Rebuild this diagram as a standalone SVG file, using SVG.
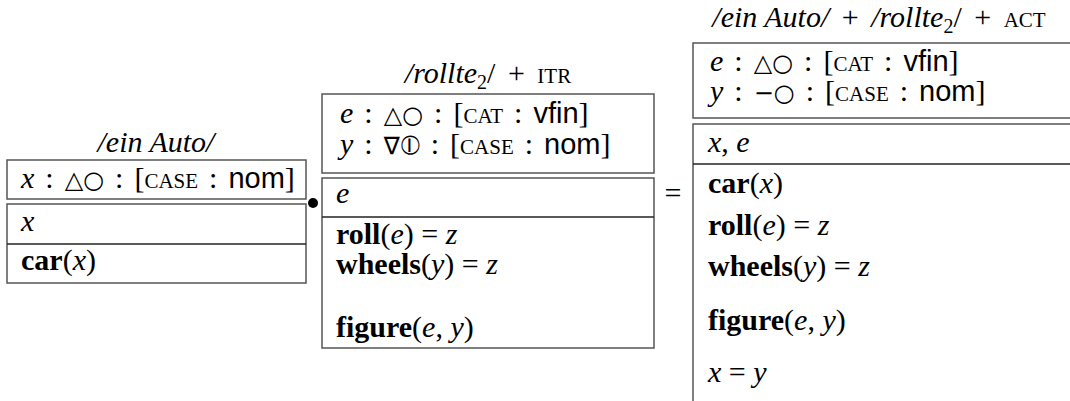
<svg xmlns="http://www.w3.org/2000/svg" width="1070" height="401" viewBox="0 0 1070 401">
<style>
.box{fill:#fff;stroke:#555;stroke-width:1.5}
.sep{stroke:#222;stroke-width:1.5}
text{font-family:"Liberation Serif","Times New Roman",serif;font-size:30px;fill:#000}
.feat{word-spacing:3.5px}
.op{word-spacing:5px}
.i{font-style:italic}
.b{font-weight:bold}
.sc{font-size:21px}
.sf{font-family:"Liberation Sans",Arial,sans-serif;font-size:29px}
.sym{font-family:"DejaVu Sans",sans-serif;font-size:24px}
.cv{font-family:"DejaVu Sans",sans-serif;font-size:28px}
.sub{font-size:20px}
</style>
<rect width="1070" height="401" fill="#fff"/>
<g id="ein-auto">
<text x="156" y="152" text-anchor="middle" class="i">/ein Auto/</text>
<rect class="box" x="7" y="160" width="299" height="39"/>
<text class="feat" x="21" y="188"><tspan class="i">x</tspan> : <tspan class="sym">△○</tspan> : [<tspan class="sc">CASE</tspan> : <tspan class="sf">nom</tspan>]</text>
<rect class="box" x="7" y="204" width="299" height="79"/>
<line class="sep" x1="7" y1="244" x2="306" y2="244"/>
<text x="21" y="231" class="i">x</text>
<text x="21" y="270"><tspan class="b">car</tspan>(<tspan class="i">x</tspan>)</text>
</g>
<g id="rollte">
<text x="488" y="83" text-anchor="middle"><tspan class="i">/rollte</tspan><tspan class="sub" dy="6">2</tspan><tspan class="op" dy="-6">/ + </tspan><tspan class="sc">ITR</tspan></text>
<rect class="box" x="322" y="94" width="332" height="79"/>
<text class="feat" x="340" y="123"><tspan class="i">e</tspan> : <tspan class="sym">△○</tspan> : [<tspan class="sc">CAT</tspan> : <tspan class="sf">vfin</tspan>]</text>
<text class="feat" x="340" y="154"><tspan class="i">y</tspan> : <tspan class="sym">∇</tspan><tspan class="cv">⦶</tspan> : [<tspan class="sc">CASE</tspan> : <tspan class="sf">nom</tspan>]</text>
<rect class="box" x="322" y="178" width="332" height="170"/>
<line class="sep" x1="322" y1="217" x2="654" y2="217"/>
<text x="336" y="203" class="i">e</text>
<text x="336" y="244"><tspan class="b">roll</tspan>(<tspan class="i">e</tspan>) = <tspan class="i">z</tspan></text>
<text x="336" y="274"><tspan class="b">wheels</tspan>(<tspan class="i">y</tspan>) = <tspan class="i">z</tspan></text>
<text x="336" y="337"><tspan class="b">figure</tspan>(<tspan class="i">e</tspan>, <tspan class="i">y</tspan>)</text>
</g>
<g id="result">
<text x="879" y="27" text-anchor="middle"><tspan class="i">/ein Auto/</tspan><tspan class="op"> + </tspan><tspan class="i">/rollte</tspan><tspan class="sub" dy="6">2</tspan><tspan class="op" dy="-6">/ + </tspan><tspan class="sc">ACT</tspan></text>
<rect class="box" x="693" y="43" width="390" height="75"/>
<text class="feat" x="710" y="71"><tspan class="i">e</tspan> : <tspan class="sym">△○</tspan> : [<tspan class="sc">CAT</tspan> : <tspan class="sf">vfin</tspan>]</text>
<text class="feat" x="710" y="101"><tspan class="i">y</tspan> : <tspan class="sym">−○</tspan> : [<tspan class="sc">CASE</tspan> : <tspan class="sf">nom</tspan>]</text>
<rect class="box" x="693" y="124" width="390" height="290"/>
<line class="sep" x1="693" y1="164" x2="1070" y2="164"/>
<text x="708" y="152"><tspan class="i">x</tspan>, <tspan class="i">e</tspan></text>
<text x="708" y="193"><tspan class="b">car</tspan>(<tspan class="i">x</tspan>)</text>
<text x="708" y="235"><tspan class="b">roll</tspan>(<tspan class="i">e</tspan>) = <tspan class="i">z</tspan></text>
<text x="708" y="276"><tspan class="b">wheels</tspan>(<tspan class="i">y</tspan>) = <tspan class="i">z</tspan></text>
<text x="708" y="330"><tspan class="b">figure</tspan>(<tspan class="i">e</tspan>, <tspan class="i">y</tspan>)</text>
<text x="708" y="382"><tspan class="i">x</tspan> = <tspan class="i">y</tspan></text>
</g>
<g id="connectors">
<circle cx="313" cy="203" r="5" fill="#000"/>
<text x="673" y="203" text-anchor="middle">=</text>
</g>
</svg>
